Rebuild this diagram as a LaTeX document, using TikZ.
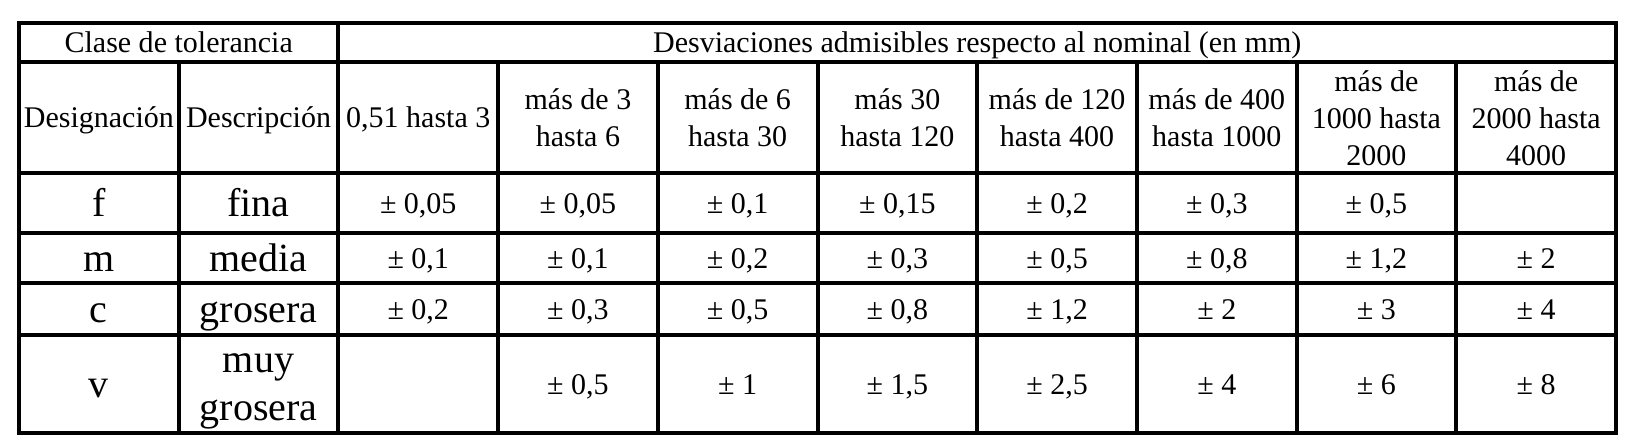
\documentclass[tikz,border=0pt]{standalone}
\usepackage{fontspec}
\setmainfont{Liberation Serif}
\begin{document}
\begin{tikzpicture}[x=0.5pt,y=-0.5pt,
  gridline/.style={line width=2pt,black},
  hdr/.style={inner sep=0pt,anchor=base,font=\fontsize{15}{18.5}\selectfont},
  hdrm/.style={inner sep=0pt,anchor=center,align=center,font=\fontsize{15}{18.5}\selectfont},
  val/.style={inner sep=0pt,anchor=base,font=\fontsize{15}{18.5}\selectfont},
  lbl/.style={inner sep=0pt,anchor=base,font=\fontsize{20}{24}\selectfont},
  lblm/.style={inner sep=0pt,anchor=center,align=center,font=\fontsize{20}{24}\selectfont}]
\useasboundingbox (0,0) rectangle (1626,448);
\fill[white] (0,0) rectangle (1626,448);
% grid
\draw[gridline,line join=miter] (19,23) rectangle (1616,433);
\draw[gridline] (19,62) -- (1616,62);
\foreach \y in {173,233,283,335} \draw[gridline] (19,\y) -- (1616,\y);
\draw[gridline] (338.4,23) -- (338.4,433);
\foreach \x in {178.7,498.1,657.8,817.5,977.2,1136.9,1296.6,1456.3} \draw[gridline] (\x,62) -- (\x,433);
% header row 1
\node[hdr] (clase) at (178.7,52.8) {Clase de tolerancia};
\node[hdr] (desv) at (977.2,52.8) {Desviaciones admisibles respecto al nominal (en mm)};
% header row 2
\node[hdr] (desig) at (98.85,127.8) {Designación};
\node[hdr] (descr) at (258.55,127.8) {Descripción};
\node[hdr] (h1) at (418.25,127.8) {0,51 hasta 3};
\node[hdrm] (h2) at (577.95,118) {más de 3\\hasta 6};
\node[hdrm] (h3) at (737.65,118) {más de 6\\hasta 30};
\node[hdrm] (h4) at (897.35,118) {más 30\\hasta 120};
\node[hdrm] (h5) at (1057.05,118) {más de 120\\hasta 400};
\node[hdrm] (h6) at (1216.75,118) {más de 400\\hasta 1000};
\node[hdrm] (h7) at (1376.45,118) {más de\\1000 hasta\\2000};
\node[hdrm] (h8) at (1536.15,118) {más de\\2000 hasta\\4000};
% row f
\node[lbl] (f) at (98.85,216.7) {f};
\node[lbl] (fina) at (258.55,216.7) {fina};
\node[val] (f1) at (418.25,213.3) {± 0,05};
\node[val] (f2) at (577.95,213.3) {± 0,05};
\node[val] (f3) at (737.65,213.3) {± 0,1};
\node[val] (f4) at (897.35,213.3) {± 0,15};
\node[val] (f5) at (1057.05,213.3) {± 0,2};
\node[val] (f6) at (1216.75,213.3) {± 0,3};
\node[val] (f7) at (1376.45,213.3) {± 0,5};
% row m
\node[lbl] (m) at (98.85,271.7) {m};
\node[lbl] (media) at (258.55,271.7) {media};
\node[val] (m1) at (418.25,268.3) {± 0,1};
\node[val] (m2) at (577.95,268.3) {± 0,1};
\node[val] (m3) at (737.65,268.3) {± 0,2};
\node[val] (m4) at (897.35,268.3) {± 0,3};
\node[val] (m5) at (1057.05,268.3) {± 0,5};
\node[val] (m6) at (1216.75,268.3) {± 0,8};
\node[val] (m7) at (1376.45,268.3) {± 1,2};
\node[val] (m8) at (1536.15,268.3) {± 2};
% row c
\node[lbl] (c) at (98.85,322.7) {c};
\node[lbl] (grosera) at (258.55,322.7) {grosera};
\node[val] (c1) at (418.25,319.3) {± 0,2};
\node[val] (c2) at (577.95,319.3) {± 0,3};
\node[val] (c3) at (737.65,319.3) {± 0,5};
\node[val] (c4) at (897.35,319.3) {± 0,8};
\node[val] (c5) at (1057.05,319.3) {± 1,2};
\node[val] (c6) at (1216.75,319.3) {± 2};
\node[val] (c7) at (1376.45,319.3) {± 3};
\node[val] (c8) at (1536.15,319.3) {± 4};
% row v
\node[lbl] (v) at (98.85,397.7) {v};
\node[lblm] (muy) at (258.55,391) {muy\\grosera};
\node[val] (v2) at (577.95,394.3) {± 0,5};
\node[val] (v3) at (737.65,394.3) {± 1};
\node[val] (v4) at (897.35,394.3) {± 1,5};
\node[val] (v5) at (1057.05,394.3) {± 2,5};
\node[val] (v6) at (1216.75,394.3) {± 4};
\node[val] (v7) at (1376.45,394.3) {± 6};
\node[val] (v8) at (1536.15,394.3) {± 8};
\end{tikzpicture}
\end{document}
